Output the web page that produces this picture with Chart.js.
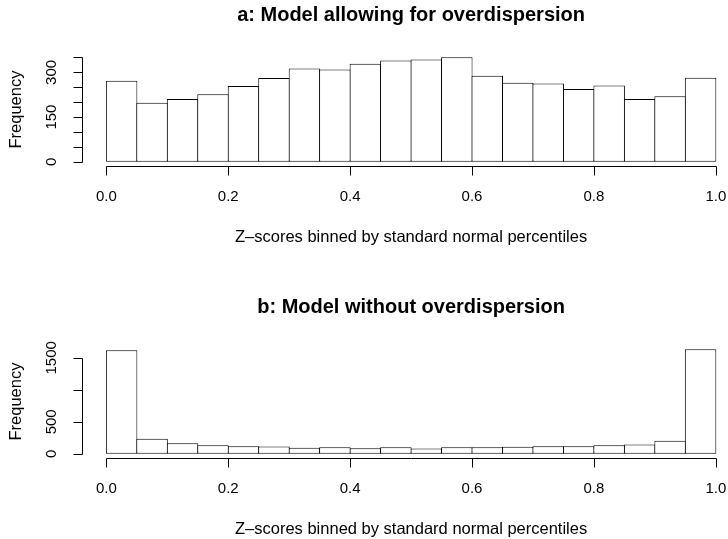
<!DOCTYPE html>
<html>
<head>
<meta charset="utf-8">
<script src="https://cdn.jsdelivr.net/npm/chart.js@4.4.1/dist/chart.umd.min.js"></script>
<style>
  html, body { margin: 0; padding: 0; background: #fff; }
  .panel { position: relative; width: 728px; }
  canvas { display: block; }
</style>
</head>
<body>
<div class="panel" style="height:270px"><canvas id="chart-a"></canvas></div>
<div class="panel" style="height:269px"><canvas id="chart-b"></canvas></div>
<script>
// Two R-style histograms of z-score percentiles.
const BIN_START = [0.00, 0.05, 0.10, 0.15, 0.20, 0.25, 0.30, 0.35, 0.40, 0.45,
                   0.50, 0.55, 0.60, 0.65, 0.70, 0.75, 0.80, 0.85, 0.90, 0.95];
const BIN_WIDTH = 0.05;

const COUNTS_A = [272, 198, 211, 227, 254, 281, 313, 310, 329, 340,
                  343, 351, 289, 265, 263, 244, 256, 211, 220, 282];
const COUNTS_B = [1620, 234, 167, 135, 120, 115, 94, 104, 89, 104,
                  83, 104, 104, 109, 120, 120, 135, 146, 203, 1636];

const X_TICKS = [0, 0.2, 0.4, 0.6, 0.8, 1.0];
const X_LABELS = ["0.0", "0.2", "0.4", "0.6", "0.8", "1.0"];
const Y_TICKS_A = [0, 50, 100, 150, 200, 250, 300, 350];
const Y_LABELS_A = ["0", "", "", "150", "", "", "300", ""];
const Y_TICKS_B = [0, 500, 1000, 1500];
const Y_LABELS_B = ["0", "500", "", "1500"];

const X_TITLE = "Z\u2013scores binned by standard normal percentiles";
const Y_TITLE = "Frequency";

const FONT = '"Liberation Sans", Arial, Helvetica, sans-serif';

// draws base-graphics style axes, titles and labels around the plot region
const rAxes = {
  id: "rAxes",
  afterDraw(chart, args, o) {
    const { ctx, chartArea: a, scales: { x, y } } = chart;
    const mid = x.getPixelForValue((X_TICKS[0] + X_TICKS[X_TICKS.length - 1]) / 2);
    ctx.save();
    ctx.strokeStyle = "#000";
    ctx.fillStyle = "#000";
    ctx.lineWidth = 1;

    const xb = Math.round(a.bottom) + 0.5;
    const yl = Math.round(a.left) + 0.5;
    ctx.beginPath();
    ctx.moveTo(Math.round(x.getPixelForValue(X_TICKS[0])) + 0.5, xb);
    ctx.lineTo(Math.round(x.getPixelForValue(X_TICKS[X_TICKS.length - 1])) + 0.5, xb);
    X_TICKS.forEach((v) => {
      const px = Math.round(x.getPixelForValue(v)) + 0.5;
      ctx.moveTo(px, xb); ctx.lineTo(px, xb + 9);
    });
    ctx.moveTo(yl, Math.round(y.getPixelForValue(o.yTicks[0])) + 0.5);
    ctx.lineTo(yl, Math.round(y.getPixelForValue(o.yTicks[o.yTicks.length - 1])) + 0.5);
    o.yTicks.forEach((v) => {
      const py = Math.round(y.getPixelForValue(v)) + 0.5;
      ctx.moveTo(yl, py); ctx.lineTo(yl - 9, py);
    });
    ctx.stroke();

    ctx.textAlign = "center";
    ctx.textBaseline = "middle";
    ctx.font = "15px " + FONT;
    X_TICKS.forEach((v, i) => ctx.fillText(X_LABELS[i], x.getPixelForValue(v), a.bottom + 31));
    o.yTicks.forEach((v, i) => {
      if (!o.yLabels[i]) return;
      ctx.save();
      ctx.translate(a.left - 30, y.getPixelForValue(v));
      ctx.rotate(-Math.PI / 2);
      ctx.fillText(o.yLabels[i], 0, 0);
      ctx.restore();
    });

    ctx.font = "16.5px " + FONT;
    ctx.fillText(X_TITLE, mid, a.bottom + 71);
    ctx.save();
    ctx.translate(16, (a.top + a.bottom) / 2);
    ctx.rotate(-Math.PI / 2);
    ctx.fillText(Y_TITLE, 0, 0);
    ctx.restore();

    ctx.font = "bold 20px " + FONT;
    ctx.fillText(o.title, mid, a.top - 38);
    ctx.restore();
  },
};

function makeHist(id, counts, yMin, yMax, padding, axes) {
  return new Chart(document.getElementById(id), {
    type: "bar",
    data: {
      datasets: [{
        data: BIN_START.map((s, i) => ({ x: s + BIN_WIDTH / 2, y: counts[i] })),
        backgroundColor: "#fff",
        borderColor: "#000",
        borderWidth: 1,
        borderSkipped: false,
        inflateAmount: 0,
        // bars overlap by one pixel so neighbouring outlines coincide
        barPercentage: 1.033,
        categoryPercentage: 1,
      }],
    },
    options: {
      responsive: true, maintainAspectRatio: false, animation: false, events: [],
      layout: { padding },
      plugins: { legend: { display: false }, tooltip: { enabled: false }, rAxes: axes },
      scales: {
        x: {
          type: "linear", min: -0.04, max: 1.02, offset: false, display: false,
          afterBuildTicks: (s) => { s.ticks = X_TICKS.map((v) => ({ value: v })); },
        },
        y: { min: yMin, max: yMax, display: false },
      },
    },
    plugins: [rAxes],
  });
}

makeHist("chart-a", COUNTS_A, -14, 365, { top: 53, bottom: 104, left: 82, right: 0 },
  { title: "a: Model allowing for overdispersion", yTicks: Y_TICKS_A, yLabels: Y_LABELS_A });
makeHist("chart-b", COUNTS_B, -65, 1701, { top: 75, bottom: 81, left: 82, right: 0 },
  { title: "b: Model without overdispersion", yTicks: Y_TICKS_B, yLabels: Y_LABELS_B });
</script>
</body>
</html>
